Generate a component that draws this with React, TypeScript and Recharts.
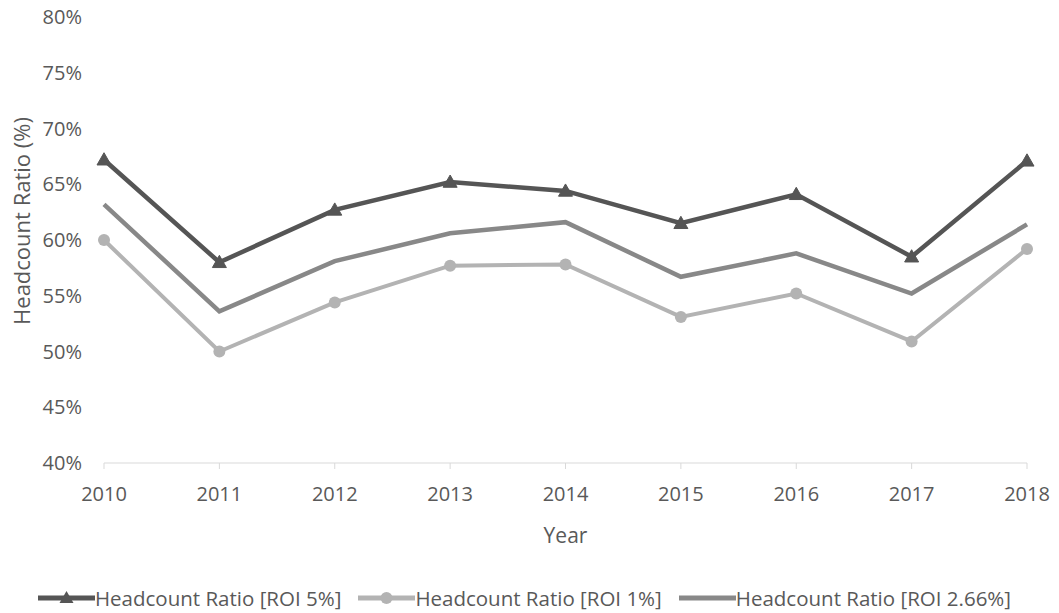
import React from 'react';
import { LineChart, Line, XAxis, YAxis, Legend, Label } from 'recharts';

const years = [2010, 2011, 2012, 2013, 2014, 2015, 2016, 2017, 2018];
const roi5 = [67.2, 58.0, 62.7, 65.2, 64.4, 61.5, 64.1, 58.5, 67.1];
const roi1 = [60.0, 50.0, 54.4, 57.7, 57.8, 53.1, 55.2, 50.9, 59.2];
const roi266 = [63.2, 53.6, 58.1, 60.6, 61.6, 56.7, 58.8, 55.2, 61.4];
const yTicks = [40, 45, 50, 55, 60, 65, 70, 75, 80];

const data = years.map((y, i) => ({ year: y, roi5: roi5[i], roi1: roi1[i], roi266: roi266[i] }));

const FONT = '"Open Sans", "Noto Sans", sans-serif';
const TEXT = '#595959';
const C5 = '#555555';
const C1 = '#b3b3b3';
const C266 = '#888888';

const Triangle = (props: any) => {
  const { cx, cy, index } = props;
  if (cx == null || cy == null) return <g key={index} />;
  const s = 7;
  return (
    <path
      key={index}
      d={`M${cx},${cy - s} L${cx + s},${cy + s * 0.75} L${cx - s},${cy + s * 0.75} Z`}
      fill={C5}
      stroke={C5}
    />
  );
};

const items = [
  { label: 'Headcount Ratio [ROI 5%]', color: C5, marker: 'tri' },
  { label: 'Headcount Ratio [ROI 1%]', color: C1, marker: 'circle' },
  { label: 'Headcount Ratio [ROI 2.66%]', color: C266, marker: 'none' },
];

const LegendContent = () => (
  <div style={{ display: 'flex', justifyContent: 'center', alignItems: 'center', fontFamily: FONT, fontSize: 20.5, color: TEXT, lineHeight: '26px', paddingLeft: 22 }}>
    {items.map((it, i) => (
      <div key={i} style={{ display: 'flex', alignItems: 'center', marginRight: i < 2 ? 17 : 0 }}>
        <svg width={57} height={16} style={{ display: 'block' }}>
          <line x1={0} y1={8} x2={57} y2={8} stroke={it.color} strokeWidth={5} />
          {it.marker === 'tri' && <path d="M28.5,1 L35.5,13 L21.5,13 Z" fill={it.color} />}
          {it.marker === 'circle' && <circle cx={28.5} cy={8} r={6} fill={it.color} />}
        </svg>
        <span style={{ whiteSpace: 'nowrap' }}>{it.label}</span>
      </div>
    ))}
  </div>
);

export default function App() {
  return (
    <div style={{ position: 'absolute', left: 0, top: 0, background: '#fff' }}>
      <LineChart width={1059} height={613} data={data} margin={{ top: 17, right: 32, bottom: 35, left: 0 }}>
        <XAxis
          dataKey="year"
          type="number"
          domain={[2010, 2018]}
          ticks={years}
          allowDecimals={false}
          stroke="#d9d9d9"
          tickLine={{ stroke: '#d9d9d9' }}
          tickSize={6}
          tickMargin={18}
          height={85}
          tick={{ fill: TEXT, fontFamily: FONT, fontSize: 20 }}
        >
          <Label value="Year" position="insideBottom" offset={5} style={{ fill: TEXT, fontFamily: FONT, fontSize: 21 }} />
        </XAxis>
        <YAxis
          domain={[40, 80]}
          ticks={yTicks}
          width={104}
          axisLine={false}
          tickLine={false}
          tickMargin={16}
          tickFormatter={(v: number) => `${v}%`}
          tick={{ fill: TEXT, fontFamily: FONT, fontSize: 20 }}
        >
          <Label
            value="Headcount Ratio (%)"
            angle={-90}
            position="center"
            dx={-30}
            dy={-19}
            style={{ fill: TEXT, fontFamily: FONT, fontSize: 22, textAnchor: 'middle' }}
          />
        </YAxis>
        <Legend verticalAlign="bottom" height={30} wrapperStyle={{ top: 585 }} content={<LegendContent />} />
        <Line dataKey="roi5" stroke={C5} strokeWidth={4.5} dot={<Triangle />} activeDot={false} isAnimationActive={false} />
        <Line dataKey="roi1" stroke={C1} strokeWidth={4} dot={{ r: 6, fill: C1, stroke: C1, strokeWidth: 0 }} activeDot={false} isAnimationActive={false} />
        <Line dataKey="roi266" stroke={C266} strokeWidth={4.5} dot={false} activeDot={false} isAnimationActive={false} />
      </LineChart>
    </div>
  );
}
